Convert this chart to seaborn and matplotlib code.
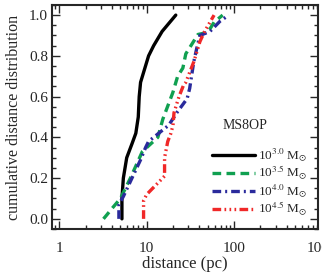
"""
Cumulative distance distribution, MS8OP.
"""

import pandas as pd
import matplotlib.pyplot as plt
import seaborn as sns
from matplotlib.ticker import FixedLocator, LogLocator, MultipleLocator, NullFormatter

# distances (pc) and cumulative fraction for each cluster mass
d_30 = [5.2, 5.2, 5.4, 5.9, 6.8, 7.5, 8.0, 8.2, 8.5, 10.5, 12.0, 15.0, 21.5]
f_30 = [0.0, 0.1, 0.2, 0.3, 0.37, 0.42, 0.5, 0.6, 0.67, 0.8, 0.85, 0.92, 1.0]

d_35 = [3.2, 3.5, 3.9, 5.0, 6.5, 8.9, 13.4, 15.3, 19.9, 22.6, 25.9, 28.0, 38.6, 50.0, 59.0, 74.0]
f_35 = [0.0, 0.02, 0.045, 0.1, 0.2, 0.33, 0.4, 0.49, 0.62, 0.70, 0.74, 0.81, 0.905, 0.915, 0.965, 1.0]

d_40 = [4.8, 4.8, 5.4, 8.5, 9.7, 10.5, 13.7, 17.9, 22.0, 29.0, 31.0, 34.5, 37.5, 40.6, 53.0, 69.0, 87.0]
f_40 = [0.0, 0.07, 0.11, 0.29, 0.35, 0.38, 0.42, 0.46, 0.52, 0.59, 0.64, 0.77, 0.84, 0.90, 0.92, 0.97, 1.0]

d_45 = [9.2, 9.2, 10.0, 11.7, 13.7, 16.0, 16.0, 17.4, 18.9, 20.0, 20.5, 23.4, 26.6, 28.0, 34.5, 37.5, 40.6, 46.0, 59.0]
f_45 = [0.0, 0.09, 0.12, 0.15, 0.18, 0.21, 0.30, 0.38, 0.42, 0.46, 0.52, 0.60, 0.66, 0.67, 0.77, 0.82, 0.87, 0.92, 1.0]

labels = [r"10$^{3.0}$ M$_{\odot}$", r"10$^{3.5}$ M$_{\odot}$",
          r"10$^{4.0}$ M$_{\odot}$", r"10$^{4.5}$ M$_{\odot}$"]
colors = ["black", "#10a050", "#2a2a9c", "#f02828"]
styles = ["-", (0, (2.6, 1.6)), (0, (2.6, 1.2, 0.6, 1.2)),
          (0, (2.6, 1.0, 0.5, 1.0, 0.5, 1.0, 0.5, 1.0))]
xticks = [1, 10, 100, 1000]


def main():
    sns.set_style("ticks")
    plt.rcParams["font.family"] = ["Liberation Serif", "DejaVu Serif"]
    plt.rcParams["mathtext.fontset"] = "stix"

    fig = plt.figure(figsize=(3.22, 2.73), dpi=100)
    ax = fig.add_axes([0.162, 0.161, 0.826, 0.821])

    series = [(d_30, f_30), (d_35, f_35), (d_40, f_40), (d_45, f_45)]
    for (d, f), lab, c, ls in zip(series, labels, colors, styles):
        df = pd.DataFrame({"distance": d, "frac": f})
        sns.lineplot(data=df, x="distance", y="frac", ax=ax, sort=False,
                     estimator=None, errorbar=None,
                     color=c, linestyle=ls, linewidth=2.4, label=lab)

    ax.set_xscale("log")
    ax.set_xlim(0.827, 916)
    ax.set_ylim(-0.05, 1.05)
    ax.xaxis.set_major_locator(FixedLocator(xticks))
    ax.set_xticklabels([str(t) for t in xticks])
    ax.xaxis.set_minor_locator(LogLocator(base=10, subs=range(2, 10)))
    ax.xaxis.set_minor_formatter(NullFormatter())
    ax.yaxis.set_major_locator(MultipleLocator(0.2))
    ax.yaxis.set_minor_locator(MultipleLocator(0.05))
    ax.yaxis.set_major_formatter(plt.FuncFormatter(lambda v, p: f"{v:.1f}"))

    ax.tick_params(which="both", direction="in", top=True, right=True,
                   labelsize=11, width=1.0)
    ax.tick_params(axis="x", which="major", pad=9)
    ax.tick_params(axis="y", which="major", pad=3)
    ax.tick_params(which="major", length=6)
    ax.tick_params(which="minor", length=3)
    for sp in ax.spines.values():
        sp.set_linewidth(1.5)

    # last decade label sits past the axis edge, as in the original
    ax.annotate(str(xticks[-1]), xy=(xticks[-1], 0), xycoords=("data", "axes fraction"),
                xytext=(0, -9), textcoords="offset points", ha="center", va="top",
                fontsize=11, annotation_clip=False)

    ax.set_xlabel("distance (pc)", fontsize=12, labelpad=1)
    ax.set_ylabel("cumulative distance distribution", fontsize=11.5, labelpad=5)

    ax.text(0.725, 0.46, "MS8OP", transform=ax.transAxes, fontsize=10,
            ha="center", va="center")
    ax.legend(loc="lower right", frameon=False, fontsize=9.5, handlelength=3.3,
              handletextpad=0.2, labelspacing=0.0, borderaxespad=0.4)

    fig.savefig("out.png", dpi=100)
    plt.close(fig)


if __name__ == "__main__":
    main()
